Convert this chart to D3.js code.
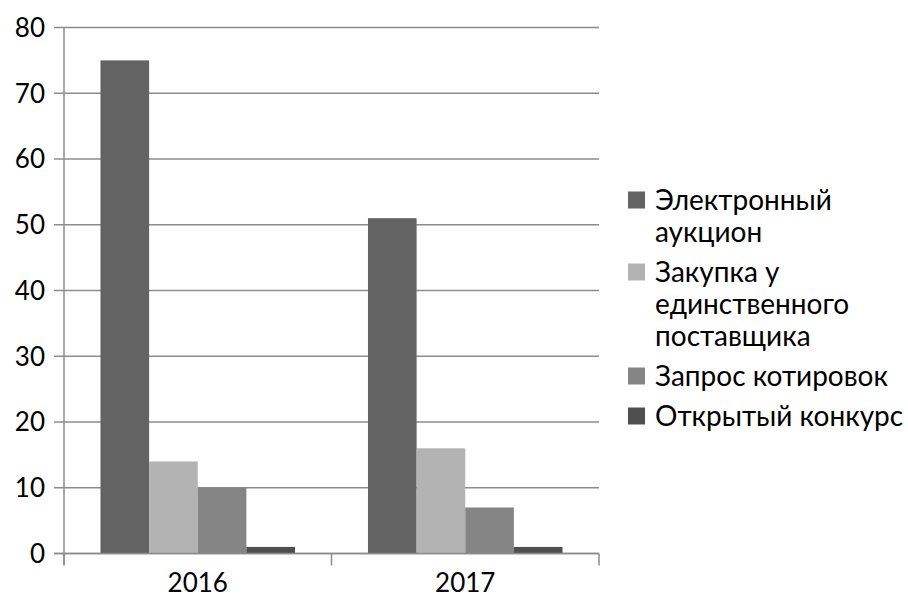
<!DOCTYPE html>
<html>
<head>
<meta charset="utf-8">
<script src="https://cdn.jsdelivr.net/npm/d3@7"></script>
<style>
    body { margin: 0; background: #fff; }
    svg text { font-family: Lato, "Open Sans", sans-serif; fill: #000; }
</style>
</head>
<body>
<div id="chart"></div>
<script>
// data
var years = ["2016", "2017"];
var seriesNames = ["Электронный аукцион", "Закупка у единственного поставщика", "Запрос котировок", "Открытый конкурс"];
var legendLines = [["Электронный", "аукцион"], ["Закупка у", "единственного", "поставщика"], ["Запрос котировок"], ["Открытый конкурс"]];
var seriesColors = ["#636363", "#b3b3b3", "#858585", "#4f4f4f"];
var valuesAuction = [75, 51];
var valuesSingle = [14, 16];
var valuesQuotes = [10, 7];
var valuesTender = [1, 1];
var yTicks = [0, 10, 20, 30, 40, 50, 60, 70, 80];

var seriesValues = [valuesAuction, valuesSingle, valuesQuotes, valuesTender];

var chartW = 908, chartH = 599;
var plotL = 64, plotR = 599, plotT = 27.5, plotB = 553.5;

var svg = d3.select("#chart").append("svg")
    .attr("width", chartW)
    .attr("height", chartH);

var y = d3.scaleLinear().domain([0, 80]).range([plotB, plotT]);
var x0 = d3.scaleBand().domain(years).range([plotL, plotR]).paddingInner(0).paddingOuter(0);
var x1 = d3.scaleBand().domain(d3.range(seriesNames.length)).range([0, x0.bandwidth()])
    .paddingInner(0).paddingOuter(0.75);

// gridlines
svg.append("g")
    .selectAll("line")
    .data(yTicks)
    .enter()
    .append("line")
    .attr("x1", plotL - 10)
    .attr("x2", plotR)
    .attr("y1", d => y(d))
    .attr("y2", d => y(d))
    .attr("stroke", "#8c8c8c")
    .attr("stroke-width", 1.5);

// y labels
svg.append("g")
    .selectAll("text")
    .data(yTicks)
    .enter()
    .append("text")
    .attr("x", plotL - 19)
    .attr("y", d => y(d))
    .attr("dy", "0.36em")
    .attr("text-anchor", "end")
    .style("font-size", "26px")
    .text(d => d);

// y axis line
svg.append("line")
    .attr("x1", plotL).attr("x2", plotL)
    .attr("y1", plotT).attr("y2", plotB + 12)
    .attr("stroke", "#8c8c8c").attr("stroke-width", 1.5);

// x axis ticks
var xTickPos = years.map(d => x0(d)).concat([plotR]);
svg.append("g")
    .selectAll("line")
    .data(xTickPos)
    .enter()
    .append("line")
    .attr("x1", d => d).attr("x2", d => d)
    .attr("y1", plotB).attr("y2", plotB + 12)
    .attr("stroke", "#8c8c8c").attr("stroke-width", 1.5);

// bars
var groups = svg.append("g")
    .selectAll("g")
    .data(years)
    .enter()
    .append("g")
    .attr("transform", d => "translate(" + x0(d) + ",0)");

groups.selectAll("rect")
    .data((d, i) => seriesValues.map((s, k) => ({ k: k, v: s[i] })))
    .enter()
    .append("rect")
    .attr("x", d => x1(d.k))
    .attr("width", x1.bandwidth())
    .attr("y", d => y(d.v))
    .attr("height", d => plotB - y(d.v))
    .attr("fill", d => seriesColors[d.k]);

// bottom axis line
svg.append("line")
    .attr("x1", plotL - 10).attr("x2", plotR)
    .attr("y1", plotB).attr("y2", plotB)
    .attr("stroke", "#8c8c8c").attr("stroke-width", 1.5);

// x labels
svg.append("g")
    .selectAll("text")
    .data(years)
    .enter()
    .append("text")
    .attr("x", d => x0(d) + x0.bandwidth() / 2)
    .attr("y", 583)
    .attr("dy", "0.36em")
    .attr("text-anchor", "middle")
    .style("font-size", "26px")
    .text(d => d);

// legend
var lineH = 32, itemGap = 8;
var ly = 200;
legendLines.forEach((lines, k) => {
    svg.append("rect")
        .attr("x", 628).attr("y", ly - 8.5)
        .attr("width", 17).attr("height", 17)
        .attr("fill", seriesColors[k]);
    lines.forEach((t, j) => {
        svg.append("text")
            .attr("x", 655)
            .attr("y", ly + j * lineH)
            .attr("dy", "0.36em")
            .style("font-size", "28px")
            .text(t);
    });
    ly += lines.length * lineH + itemGap;
});
</script>
</body>
</html>
